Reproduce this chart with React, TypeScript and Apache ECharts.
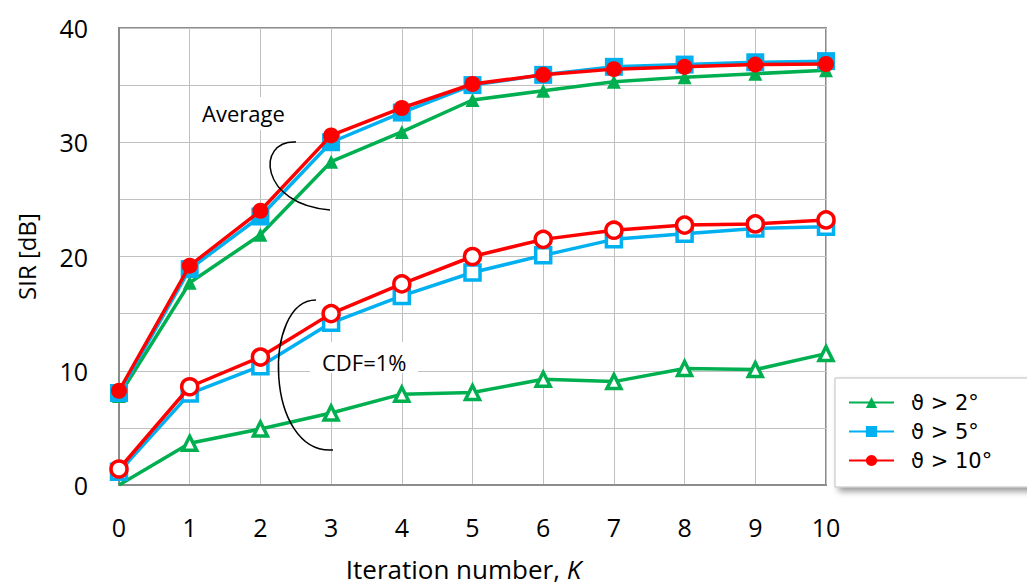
import React, { useEffect, useRef } from "react";
import * as echarts from "echarts";

const K = [0, 1, 2, 3, 4, 5, 6, 7, 8, 9, 10];
const avg2 = [7.8, 17.7, 21.9, 28.3, 30.9, 33.7, 34.5, 35.3, 35.7, 36.0, 36.3];
const avg5 = [8.05, 18.9, 23.5, 30.0, 32.6, 35.0, 35.9, 36.6, 36.8, 37.0, 37.1];
const avg10 = [8.25, 19.2, 24.0, 30.6, 33.0, 35.1, 35.9, 36.4, 36.6, 36.8, 36.85];
const cdf2 = [0, 3.65, 4.9, 6.3, 7.95, 8.1, 9.25, 9.05, 10.2, 10.1, 11.5];
const cdf5 = [1.15, 8.0, 10.4, 14.2, 16.55, 18.6, 20.1, 21.5, 22.0, 22.45, 22.6];
const cdf10 = [1.4, 8.6, 11.2, 15.0, 17.6, 20.0, 21.5, 22.3, 22.75, 22.85, 23.2];
const names = ["ϑ > 2°", "ϑ > 5°", "ϑ > 10°"];
const yTicks = [0, 10, 20, 30, 40];

const GREEN = "#00b050";
const BLUE = "#00b0f0";
const RED = "#ff0000";
const FONT = "'Open Sans', 'Noto Sans', 'DejaVu Sans', sans-serif";
const LEGEND_FONT = "'DejaVu Sans', sans-serif";

const pairs = (v: number[]) => K.map((k, i) => [k, v[i]]);

export default function App() {
  const ref = useRef<HTMLDivElement>(null);
  useEffect(() => {
    if (!ref.current) return;
    const chart = echarts.init(ref.current, undefined, { renderer: "svg" });
    const filled = (name: string, data: number[], color: string, symbol: string, size: number, z: number) => ({
      type: "line",
      name,
      data: pairs(data),
      symbol,
      symbolSize: size,
      lineStyle: { color, width: 3.5 },
      itemStyle: { color, borderColor: color, borderWidth: 0 },
      z,
    });
    const hollow = (name: string, data: number[], color: string, symbol: string, size: number, z: number, hideFirst = false) => ({
      type: "line",
      name,
      data: pairs(data).map((p, i) => (hideFirst && i === 0 ? { value: p, symbol: "none" } : p)),
      symbol,
      symbolSize: size,
      showAllSymbol: true,
      lineStyle: { color, width: 3.5 },
      itemStyle: { color: "#ffffff", borderColor: color, borderWidth: 3.5 },
      z,
    });
    chart.setOption({
      animation: false,
      backgroundColor: "#ffffff",
      textStyle: { fontFamily: FONT },
      grid: {
        left: 119,
        top: 28,
        right: 201,
        bottom: 103,
        show: true,
        borderColor: "#8c8c8c",
        borderWidth: 2,
      },
      xAxis: {
        type: "value",
        min: 0,
        max: 10,
        interval: 1,
        name: "Iteration number, {i|K}",
        nameLocation: "middle",
        nameGap: 71,
        nameTextStyle: {
          fontSize: 26,
          color: "#000",
          fontFamily: FONT,
          padding: [0, 18, 0, 0],
          rich: { i: { fontSize: 26, fontStyle: "italic", color: "#000", fontFamily: FONT } },
        },
        axisLine: { show: true, lineStyle: { color: "#8c8c8c", width: 2 } },
        axisTick: { show: false },
        axisLabel: { fontSize: 25, color: "#000", margin: 29, fontFamily: FONT },
        splitLine: { show: true, lineStyle: { color: "#c0c0c0", width: 1 } },
      },
      yAxis: {
        type: "value",
        min: 0,
        max: 40,
        interval: 5,
        name: "SIR [dB]",
        nameLocation: "middle",
        nameGap: 81,
        nameTextStyle: { fontSize: 24, color: "#000", fontFamily: FONT },
        axisLine: { show: true, lineStyle: { color: "#8c8c8c", width: 2 } },
        axisTick: { show: false },
        axisLabel: {
          fontSize: 25,
          color: "#000",
          margin: 31,
          fontFamily: FONT,
          formatter: (v: number) => (yTicks.includes(v) ? String(v) : ""),
        },
        splitLine: { show: true, lineStyle: { color: "#c0c0c0", width: 1 } },
      },
      legend: {
        data: names,
        orient: "vertical",
        left: 835,
        top: 378,
        padding: [10, 80, 12, 13],
        itemWidth: 45,
        itemHeight: 14,
        itemGap: 0,
        backgroundColor: "#ffffff",
        borderColor: "#bfbfbf",
        borderWidth: 1,
        shadowBlur: 6,
        shadowColor: "rgba(0,0,0,0.4)",
        shadowOffsetX: 4,
        shadowOffsetY: 4,
        textStyle: { fontSize: 21, color: "#000", fontFamily: LEGEND_FONT, lineHeight: 29, padding: [0, 0, 0, 12] },
      },
      series: [
        hollow("cdf2", cdf2, GREEN, "triangle", 14, 2, true),
        hollow("cdf5", cdf5, BLUE, "rect", 15, 3),
        hollow("cdf10", cdf10, RED, "circle", 16, 4),
        filled(names[0], avg2, GREEN, "triangle", 14, 5),
        filled(names[1], avg5, BLUE, "rect", 18, 6),
        filled(names[2], avg10, RED, "circle", 16, 7),
      ],
      graphic: [
        { type: "rect", shape: { x: 190, y: 97, width: 107, height: 33 }, style: { fill: "#ffffff" }, z: 10 },
        {
          type: "text",
          x: 202,
          y: 113,
          style: { text: "Average", font: `22px ${FONT}`, fill: "#000", textVerticalAlign: "middle" },
          z: 11,
        },
        { type: "rect", shape: { x: 310, y: 342, width: 108, height: 31 }, style: { fill: "#ffffff" }, z: 10 },
        {
          type: "text",
          x: 322,
          y: 362,
          style: { text: "CDF=1%", font: `22px ${FONT}`, fill: "#000", textVerticalAlign: "middle" },
          z: 11,
        },
        {
          type: "bezierCurve",
          shape: { x1: 296, y1: 142, cpx1: 255, cpy1: 140, cpx2: 260, cpy2: 205, x2: 330, y2: 210 },
          style: { stroke: "#000", lineWidth: 1.5, fill: null },
          z: 12,
        },
        {
          type: "bezierCurve",
          shape: { x1: 316, y1: 300, cpx1: 262, cpy1: 300, cpx2: 265, cpy2: 455, x2: 333, y2: 450 },
          style: { stroke: "#000", lineWidth: 1.5, fill: null },
          z: 12,
        },
      ],
    });
    return () => chart.dispose();
  }, []);
  return <div ref={ref} style={{ position: "fixed", left: 0, top: 0, width: 1027, height: 588 }} />;
}
